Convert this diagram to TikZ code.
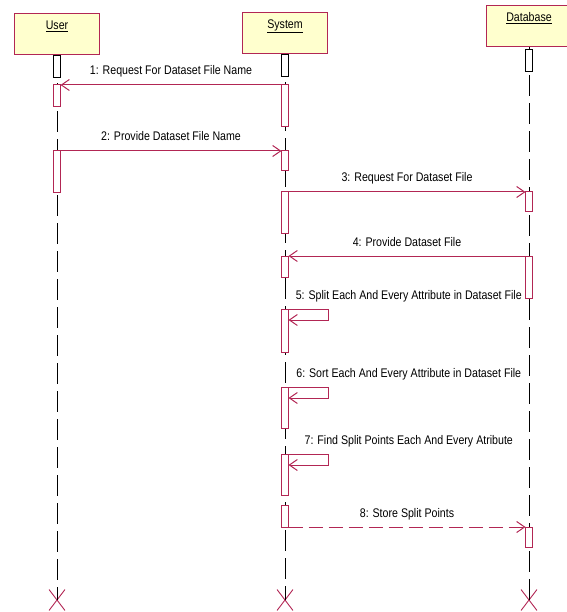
\documentclass[tikz,border=0pt]{standalone}
\usepackage{fontspec}
\setmainfont{Liberation Sans}[FakeStretch=0.85]
\definecolor{UmlRed}{RGB}{178, 38, 84}
\definecolor{UmlYellow}{RGB}{255, 255, 206}
\usetikzlibrary{arrows.meta, positioning, shapes.misc}

\begin{document}
\begin{tikzpicture}[x=1pt, y=-1pt,
        font=\fontsize{12.5}{14}\selectfont,
        object/.style={rectangle, draw=UmlRed, fill=UmlYellow, line width=1.2pt, minimum width=85pt, inner sep=4pt, text height=12pt, text depth=21pt, anchor=north},
        initbar/.style={rectangle, draw=black, fill=white, line width=0.8pt, minimum width=7pt, inner sep=0pt, outer sep=0pt, anchor=north},
        actbar/.style={rectangle, draw=UmlRed, fill=white, line width=1pt, minimum width=7pt, inner sep=0pt, outer sep=0pt, anchor=north},
        lifeline/.style={draw=black, line width=0.8pt, dash pattern=on 21pt off 7pt},
        destroy/.style={cross out, draw=UmlRed, line width=0.9pt, minimum width=15pt, minimum height=20pt, inner sep=0pt},
        msg/.style={draw=UmlRed, line width=1pt, -{Straight Barb[length=8pt, width=11pt]}},
        reply/.style={msg, dash pattern=on 14pt off 6pt},
        msglabel/.style={anchor=base, inner sep=0pt, yshift=10pt}
    ]
    \useasboundingbox (0,0) rectangle (566,612);

    % objects
    \node[object] (user) at (57,13) {\underline{User}};
    \node[object] (system) at (285,12) {\underline{System}};
    \node[object] (database) at (529,5) {\underline{Database}};

    % destruction marks
    \node[destroy] (usrEnd) at (57,600) {};
    \node[destroy] (sysEnd) at (285,600) {};
    \node[destroy] (dbEnd) at (529,600) {};

    % lifelines
    \draw[lifeline] (user.south) -- (usrEnd.center);
    \draw[lifeline] (system.south) -- (sysEnd.center);
    \draw[lifeline] (database.south) -- (dbEnd.center);

    % activations
    \node[initbar, minimum height=22pt] (usrA0) at (user.south) {};
    \node[initbar, minimum height=22pt] (sysA0) at (system.south) {};
    \node[initbar, minimum height=22pt] (dbA0) at ([yshift=-2pt]database.south) {};

    \node[actbar, minimum height=22pt] (usrA1) at (57,85) {};
    \node[actbar, minimum height=42pt] (usrA2) at (57,151) {};

    \node[actbar, minimum height=42pt] (sysA1) at (285,85) {};
    \node[actbar, minimum height=20pt] (sysA2) at (285,151) {};
    \node[actbar, minimum height=41pt] (sysA3) at (285,192) {};
    \node[actbar, minimum height=21pt] (sysA4) at (285,256) {};
    \node[actbar, minimum height=43pt] (sysA5) at (285,309) {};
    \node[actbar, minimum height=41pt] (sysA6) at (285,387) {};
    \node[actbar, minimum height=41pt] (sysA7) at (285,454) {};
    \node[actbar, minimum height=22pt] (sysA8) at (285,505) {};

    \node[actbar, minimum height=20pt] (dbA1) at (529,192) {};
    \node[actbar, minimum height=42pt] (dbA2) at (529,256) {};
    \node[actbar, minimum height=20pt] (dbA3) at (529,527) {};

    % messages
    \draw[msg] (sysA1.north west) -- node[midway, msglabel] {1: Request For Dataset File Name} (usrA1.north east);
    \draw[msg] (usrA2.north east) -- node[midway, msglabel] {2: Provide Dataset File Name} (sysA2.north west);
    \draw[msg] (sysA3.north east) -- node[midway, msglabel] {3: Request For Dataset File} (dbA1.north west);
    \draw[msg] (dbA2.north west) -- node[midway, msglabel] {4: Provide Dataset File} (sysA4.north east);

    \path (sysA5.north east) -- node[midway, msglabel] {5: Split Each And Every Attribute in Dataset File} (sysA5.north east -| database.south);
    \draw[msg] (sysA5.north east) -- ++(40,0) -- ++(0,11) -- ++(-40,0);
    \path (sysA6.north east) -- node[midway, msglabel] {6: Sort Each And Every Attribute in Dataset File} (sysA6.north east -| database.south);
    \draw[msg] (sysA6.north east) -- ++(40,0) -- ++(0,11) -- ++(-40,0);
    \path (sysA7.north east) -- node[midway, msglabel] {7: Find Split Points Each And Every Atribute} (sysA7.north east -| database.south);
    \draw[msg] (sysA7.north east) -- ++(40,0) -- ++(0,11) -- ++(-40,0);

    \draw[reply] (sysA8.south east) -- node[midway, msglabel] {8: Store Split Points} (dbA3.north west);
\end{tikzpicture}
\end{document}
